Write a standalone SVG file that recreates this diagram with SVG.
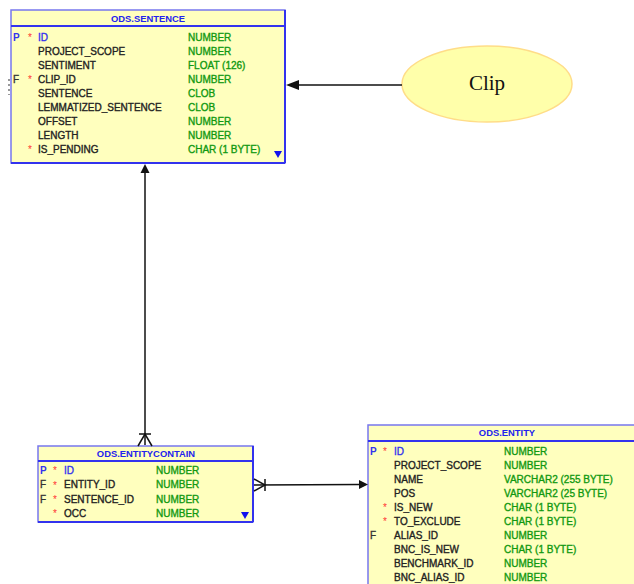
<svg xmlns="http://www.w3.org/2000/svg" width="634" height="584" viewBox="0 0 634 584">
  <style>
    .box { fill: #ffffbe; stroke: #7777ee; stroke-width: 1.5; }
    .edge { stroke: #3333ee; stroke-width: 2; }
    .hdr { font-family: "Liberation Sans", Arial, sans-serif; font-size: 9.4px; font-weight: bold; fill: #2222ee; text-anchor: middle; }
    .col { font-family: "Liberation Sans", Arial, sans-serif; font-size: 10px; stroke-width: 0.35; }
    .key { fill: #3333ee; font-weight: bold; }
    .star { fill: #ff3333; }
    .name { fill: #222222; stroke: #222222; }
    .idn { fill: #3333ee; stroke: #3333ee; }
    .type { fill: #119911; stroke: #119911; }
    .fk { fill: #333333; stroke: #333333; }
    .more { fill: #1111ee; }
    .conn { stroke: #111111; stroke-width: 1.5; fill: none; }
    .head { fill: #111111; }
  </style>

  <!-- ODS.SENTENCE -->
  <g id="ods-sentence">
    <rect class="box" x="11" y="10" width="274" height="153"/>
    <line class="edge" x1="285" y1="10" x2="285" y2="163"/>
    <line class="edge" x1="11" y1="163" x2="285" y2="163"/>
    <line class="edge" x1="11" y1="26" x2="285" y2="26"/>
    <text class="hdr" x="148" y="21.5">ODS.SENTENCE</text>
    <g class="col">
      <text class="key" x="13" y="40.5">P</text><text class="star" x="28" y="41">*</text>
      <text class="idn" x="38" y="40.5">ID</text><text class="type" x="188" y="40.5">NUMBER</text>
      <text class="name" x="38" y="54.5">PROJECT_SCOPE</text><text class="type" x="188" y="54.5">NUMBER</text>
      <text class="name" x="38" y="68.5">SENTIMENT</text><text class="type" x="188" y="68.5">FLOAT (126)</text>
      <text class="fk" x="13" y="82.5">F</text><text class="star" x="28" y="83">*</text>
      <text class="name" x="38" y="82.5">CLIP_ID</text><text class="type" x="188" y="82.5">NUMBER</text>
      <text class="name" x="38" y="96.5">SENTENCE</text><text class="type" x="188" y="96.5">CLOB</text>
      <text class="name" x="38" y="110.5">LEMMATIZED_SENTENCE</text><text class="type" x="188" y="110.5">CLOB</text>
      <text class="name" x="38" y="124.5">OFFSET</text><text class="type" x="188" y="124.5">NUMBER</text>
      <text class="name" x="38" y="138.5">LENGTH</text><text class="type" x="188" y="138.5">NUMBER</text>
      <text class="star" x="28" y="153">*</text>
      <text class="name" x="38" y="152.5">IS_PENDING</text><text class="type" x="188" y="152.5">CHAR (1 BYTE)</text>
    </g>
    <polygon class="more" points="274,151 282,151 278,158"/>
  </g>

  <!-- Clip entity -->
  <g id="clip">
    <ellipse cx="487" cy="84" rx="85" ry="38" fill="#ffffaa" stroke="#ffdd88" stroke-width="1.5"/>
    <text x="487" y="90" font-family="Liberation Serif, 'Times New Roman', serif" font-size="21" text-anchor="middle" fill="#111111">Clip</text>
  </g>

  <!-- ODS.ENTITYCONTAIN -->
  <g id="ods-entitycontain">
    <rect class="box" x="38" y="446" width="215" height="76"/>
    <line class="edge" x1="253" y1="446" x2="253" y2="522"/>
    <line class="edge" x1="38" y1="522" x2="253" y2="522"/>
    <line class="edge" x1="38" y1="461" x2="253" y2="461"/>
    <text class="hdr" x="146" y="456.5">ODS.ENTITYCONTAIN</text>
    <g class="col">
      <text class="key" x="40" y="473.5">P</text><text class="star" x="53" y="474">*</text>
      <text class="idn" x="64" y="473.5">ID</text><text class="type" x="156" y="473.5">NUMBER</text>
      <text class="fk" x="40" y="488">F</text><text class="star" x="53" y="488.5">*</text>
      <text class="name" x="64" y="488">ENTITY_ID</text><text class="type" x="156" y="488">NUMBER</text>
      <text class="fk" x="40" y="502.5">F</text><text class="star" x="53" y="503">*</text>
      <text class="name" x="64" y="502.5">SENTENCE_ID</text><text class="type" x="156" y="502.5">NUMBER</text>
      <text class="star" x="53" y="517">*</text>
      <text class="name" x="64" y="516.5">OCC</text><text class="type" x="156" y="516.5">NUMBER</text>
    </g>
    <polygon class="more" points="241,512 249,512 245,519"/>
  </g>

  <!-- ODS.ENTITY -->
  <g id="ods-entity">
    <rect class="box" x="368" y="425" width="280" height="170"/>
    <line class="edge" x1="368" y1="441" x2="640" y2="441"/>
    <text class="hdr" x="507" y="436">ODS.ENTITY</text>
    <g class="col">
      <text class="key" x="370" y="454.5">P</text><text class="star" x="383" y="455">*</text>
      <text class="idn" x="394" y="454.5">ID</text><text class="type" x="504" y="454.5">NUMBER</text>
      <text class="name" x="394" y="468.5">PROJECT_SCOPE</text><text class="type" x="504" y="468.5">NUMBER</text>
      <text class="name" x="394" y="482.5">NAME</text><text class="type" x="504" y="482.5">VARCHAR2 (255 BYTE)</text>
      <text class="name" x="394" y="496.5">POS</text><text class="type" x="504" y="496.5">VARCHAR2 (25 BYTE)</text>
      <text class="star" x="383" y="511">*</text>
      <text class="name" x="394" y="510.5">IS_NEW</text><text class="type" x="504" y="510.5">CHAR (1 BYTE)</text>
      <text class="star" x="383" y="525">*</text>
      <text class="name" x="394" y="524.5">TO_EXCLUDE</text><text class="type" x="504" y="524.5">CHAR (1 BYTE)</text>
      <text class="fk" x="370" y="538.5">F</text>
      <text class="name" x="394" y="538.5">ALIAS_ID</text><text class="type" x="504" y="538.5">NUMBER</text>
      <text class="name" x="394" y="552.5">BNC_IS_NEW</text><text class="type" x="504" y="552.5">CHAR (1 BYTE)</text>
      <text class="name" x="394" y="566.5">BENCHMARK_ID</text><text class="type" x="504" y="566.5">NUMBER</text>
      <text class="name" x="394" y="580.5">BNC_ALIAS_ID</text><text class="type" x="504" y="580.5">NUMBER</text>
    </g>
  </g>

  <!-- relationships -->
  <g id="connectors">
    <!-- Clip -> ODS.SENTENCE -->
    <line class="conn" x1="402" y1="85" x2="296" y2="85" stroke-width="2"/>
    <polygon class="head" points="286,85 299,80 299,90"/>

    <!-- ODS.ENTITYCONTAIN (many) -> ODS.SENTENCE -->
    <line class="conn" x1="145" y1="445" x2="145" y2="172"/>
    <polygon class="head" points="145,164 140.5,173 149.5,173"/>
    <polyline class="conn" points="138,446 145,434 152,446"/>
    <line class="conn" x1="139" y1="434" x2="151" y2="434"/>

    <!-- ODS.ENTITYCONTAIN (many) -> ODS.ENTITY -->
    <line class="conn" x1="254" y1="485" x2="360" y2="484.5"/>
    <polygon class="head" points="368,484.5 359,480 359,489"/>
    <polyline class="conn" points="254,479 265,485 254,491"/>
    <line class="conn" x1="265" y1="479" x2="265" y2="491"/>

    <!-- stub of a relationship leaving the picture -->
    <line x1="9" y1="79" x2="9" y2="95" stroke="#555555" stroke-width="1.2" stroke-dasharray="2,3"/>
  </g>
</svg>
